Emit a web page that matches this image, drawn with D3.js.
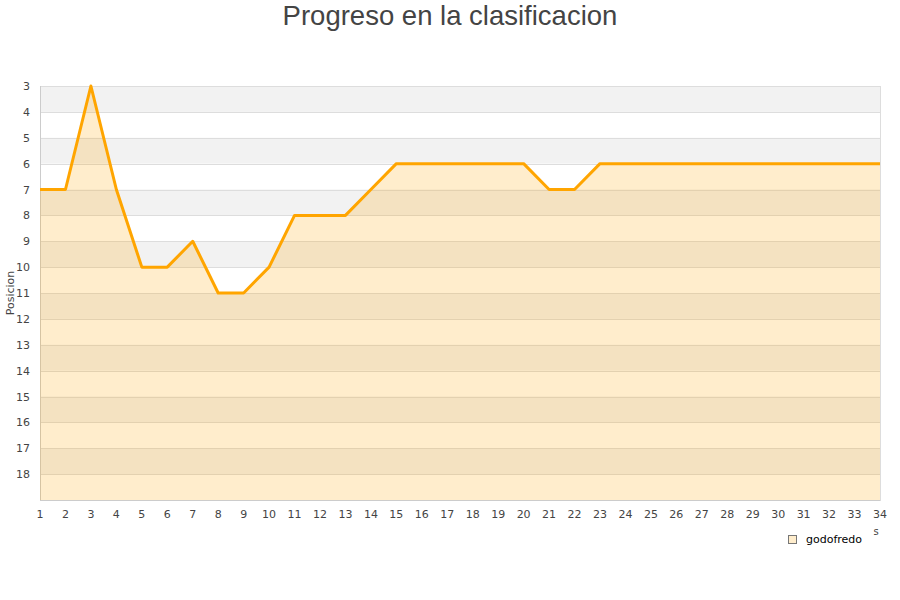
<!DOCTYPE html>
<html>
<head>
<meta charset="utf-8">
<script src="https://cdn.jsdelivr.net/npm/d3@7"></script>
<style>
  body { margin: 0; background: #fff; }
  svg { display: block; }
</style>
</head>
<body>
<svg id="chart" width="900" height="600"></svg>
<script>
const jornadas = d3.range(1, 35);
const posiciones = [7, 7, 3, 7, 10, 10, 9, 11, 11, 10, 8, 8, 8, 7, 6, 6, 6, 6, 6, 6, 7, 7, 6, 6, 6, 6, 6, 6, 6, 6, 6, 6, 6, 6];
const yTicks = d3.range(3, 19);
const seriesName = "godofredo";
const title = "Progreso en la clasificacion";
const yLabel = "Posicion";

(function () {
const svg = d3.select("#chart");
const pL = 40, pR = 880, pT = 86, pB = 500;
const x = d3.scaleLinear().domain([1, 34]).range([pL, pR]);
const y = d3.scaleLinear().domain([3, 19]).range([pT, pB]);

// background bands
const bands = d3.range(3, 19, 2);
svg.append("g").selectAll("rect").data(bands).join("rect")
  .attr("x", pL).attr("width", pR - pL)
  .attr("y", d => y(d)).attr("height", d => y(d + 1) - y(d))
  .attr("fill", "#f2f2f2");

// grid lines
svg.append("g").selectAll("line").data(d3.range(4, 19)).join("line")
  .attr("x1", pL).attr("x2", pR)
  .attr("y1", d => Math.round(y(d)) + 0.5).attr("y2", d => Math.round(y(d)) + 0.5)
  .attr("stroke", "#dddddd").attr("stroke-width", 1);

// plot border
svg.append("rect").attr("x", pL + 0.5).attr("y", pT + 0.5)
  .attr("width", pR - pL).attr("height", pB - pT)
  .attr("fill", "none").attr("stroke", "#dddddd");
svg.append("line").attr("x1", pL + 0.5).attr("x2", pL + 0.5)
  .attr("y1", pT).attr("y2", pB).attr("stroke", "#cccccc");
svg.append("line").attr("x1", pL).attr("x2", pR)
  .attr("y1", pB + 0.5).attr("y2", pB + 0.5).attr("stroke", "#cccccc");

const data = jornadas.map((j, i) => ({ j, p: posiciones[i] }));

// area
svg.append("path").datum(data)
  .attr("d", d3.area().x(d => x(d.j)).y0(y(19)).y1(d => y(d.p)))
  .attr("fill", "#ffa500").attr("fill-opacity", 0.2);

// line
svg.append("path").datum(data)
  .attr("d", d3.line().x(d => x(d.j)).y(d => y(d.p)))
  .attr("fill", "none").attr("stroke", "#ffa500").attr("stroke-width", 3)
  .attr("stroke-linejoin", "round");

// y ticks
svg.append("g").selectAll("text").data(yTicks).join("text")
  .attr("x", 30).attr("y", d => y(d) + 4)
  .attr("text-anchor", "end")
  .attr("font-family", "DejaVu Sans, sans-serif").attr("font-size", 11)
  .attr("fill", "#444").text(d => d);

// x ticks
svg.append("g").selectAll("text").data(jornadas).join("text")
  .attr("x", d => x(d)).attr("y", 518)
  .attr("text-anchor", "middle")
  .attr("font-family", "DejaVu Sans, sans-serif").attr("font-size", 11)
  .attr("fill", "#444").text(d => d);

// y label
svg.append("text")
  .attr("transform", "translate(14,293) rotate(-90)")
  .attr("text-anchor", "middle")
  .attr("font-family", "DejaVu Sans, sans-serif").attr("font-size", 11)
  .attr("fill", "#444").text(yLabel);

// x label fragment
svg.append("text").attr("x", 876).attr("y", 535).attr("text-anchor", "middle")
  .attr("font-family", "DejaVu Sans, sans-serif").attr("font-size", 10)
  .attr("fill", "#444").text("s");

// title
svg.append("text").attr("x", 450).attr("y", 25).attr("text-anchor", "middle")
  .attr("font-family", "Liberation Sans, Arial, sans-serif").attr("font-size", 27.5)
  .attr("fill", "#444").text(title);

// legend
const lg = svg.append("g").attr("transform", "translate(788,535)");
lg.append("rect").attr("x", 0.5).attr("y", 0.5).attr("width", 8).attr("height", 8)
  .attr("fill", "#ffedcc").attr("stroke", "#777");
lg.append("text").attr("x", 18).attr("y", 8)
  .attr("font-family", "DejaVu Sans, sans-serif").attr("font-size", 11)
  .attr("fill", "#000").text(seriesName);
})();
</script>
</body>
</html>
